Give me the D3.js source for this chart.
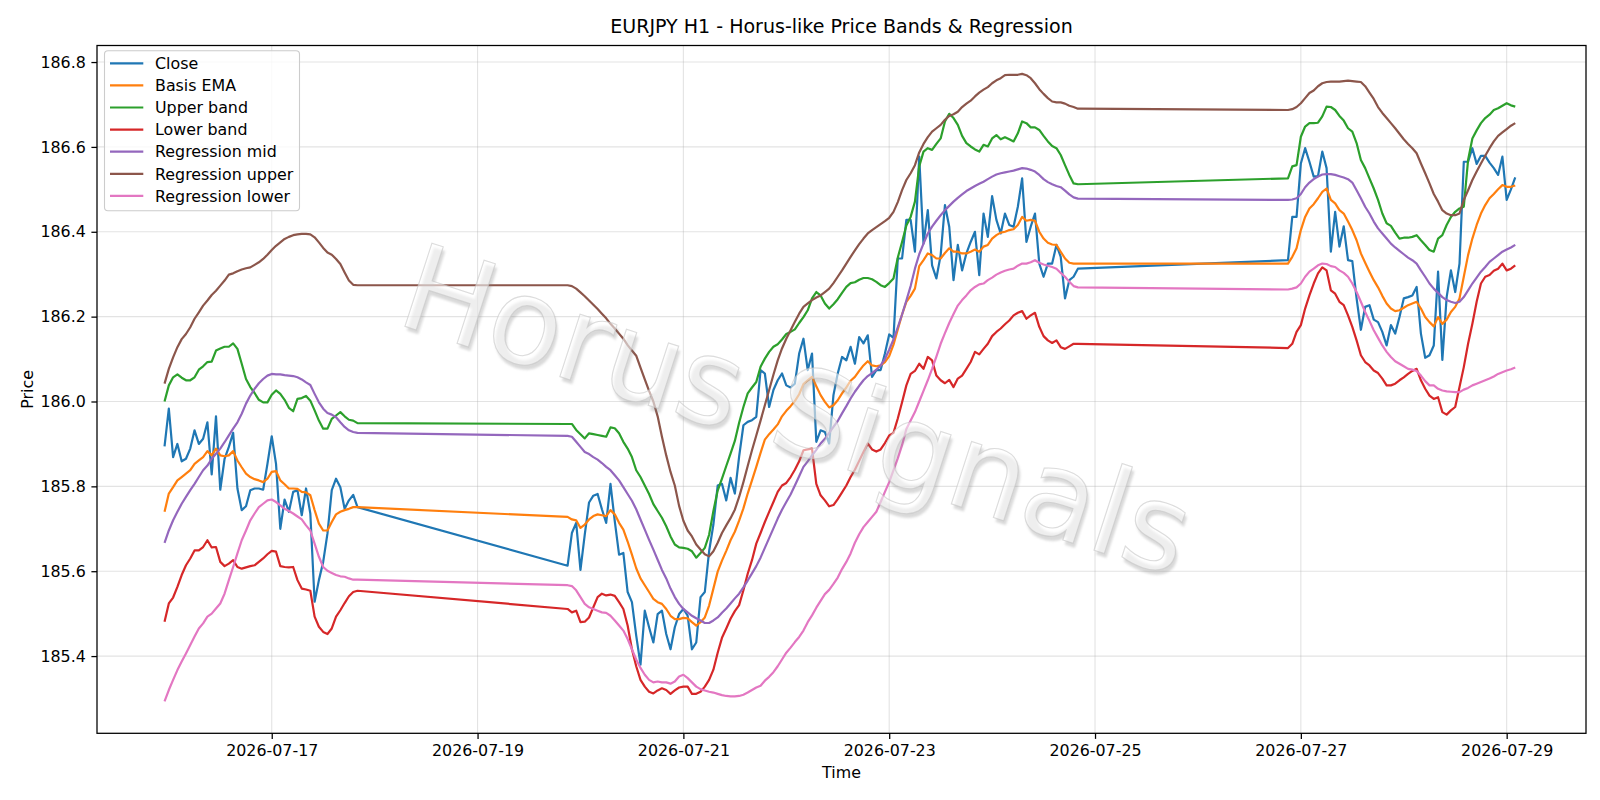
<!DOCTYPE html>
<html>
<head>
<meta charset="utf-8">
<script src="https://cdn.jsdelivr.net/npm/d3@7"></script>
<style>
  body { margin: 0; background: #ffffff; }
  text { font-family: "DejaVu Sans", sans-serif; }
</style>
</head>
<body>
<div id="chart"></div>
<script>
// trading sessions, one bar per hour (weekend gaps between them)
const sessions = [
    ["2026-07-15T23:00", "2026-07-17T20:00"],
    ["2026-07-19T21:00", "2026-07-24T20:00"],
    ["2026-07-26T21:00", "2026-07-29T02:00"]
];

const closeVals = [
    // session 1
    185.894, 185.983, 185.869, 185.900, 185.859, 185.865, 185.889, 185.932, 185.900, 185.912,
    185.951, 185.828, 185.965, 185.792, 185.865, 185.893, 185.926, 185.795, 185.744, 185.753,
    185.791, 185.795, 185.795, 185.792, 185.853, 185.918, 185.853, 185.700, 185.769, 185.740,
    185.787, 185.791, 185.732, 185.795, 185.736, 185.528, 185.579, 185.622, 185.689, 185.791,
    185.818, 185.798, 185.747, 185.767, 185.780, 185.751,
    // session 2
    185.613, 185.690, 185.714, 185.603, 185.686, 185.762, 185.778, 185.782, 185.746, 185.714,
    185.806, 185.718, 185.639, 185.643, 185.551, 185.527, 185.448, 185.380, 185.507, 185.468,
    185.432, 185.499, 185.507, 185.452, 185.416, 185.468, 185.499, 185.511, 185.495, 185.416,
    185.432, 185.539, 185.551, 185.647, 185.710, 185.802, 185.806, 185.767, 185.820, 185.783,
    185.870, 185.944, 185.952, 185.956, 185.964, 186.074, 186.066, 185.987, 186.027, 186.050,
    186.066, 186.038, 186.033, 186.042, 186.113, 186.148, 186.074, 186.113, 185.905, 185.932,
    185.928, 185.901, 186.015, 186.066, 186.105, 186.097, 186.129, 186.089, 186.152, 186.137,
    186.156, 186.058, 186.074, 186.074, 186.113, 186.158, 186.150, 186.337, 186.337, 186.428,
    186.428, 186.353, 186.577, 186.372, 186.451, 186.321, 186.290, 186.345, 186.463, 186.412,
    186.286, 186.369, 186.309, 186.349, 186.376, 186.400, 186.298, 186.443, 186.388, 186.484,
    186.428, 186.396, 186.443, 186.416, 186.412, 186.459, 186.526, 186.376, 186.412, 186.443,
    186.325, 186.294, 186.325, 186.325, 186.369, 186.341, 186.243, 186.286, 186.294, 186.313,
    // session 3
    186.333, 186.435, 186.435, 186.561, 186.597, 186.565, 186.530, 186.531, 186.589, 186.550,
    186.353, 186.447, 186.365, 186.413, 186.333, 186.331, 186.243, 186.169, 186.223, 186.227,
    186.193, 186.187, 186.164, 186.132, 186.180, 186.160, 186.199, 186.243, 186.246, 186.250,
    186.270, 186.160, 186.103, 186.109, 186.132, 186.306, 186.098, 186.246, 186.309, 186.258,
    186.325, 186.565, 186.565, 186.597, 186.560, 186.579, 186.579, 186.563, 186.550, 186.534,
    186.577, 186.475, 186.500, 186.528
];

const basisVals = [
    185.740, 185.783, 185.798, 185.814, 185.822, 185.830, 185.838, 185.853, 185.861, 185.869,
    185.883, 185.873, 185.889, 185.873, 185.871, 185.873, 185.883, 185.861, 185.845, 185.830,
    185.822, 185.817, 185.814, 185.810, 185.818, 185.834, 185.836, 185.814, 185.805, 185.795,
    185.795, 185.794, 185.787, 185.786, 185.779, 185.744, 185.712, 185.696, 185.696, 185.716,
    185.734, 185.740, 185.744, 185.747, 185.751, 185.751,

    185.728, 185.722, 185.720, 185.702, 185.710, 185.722, 185.730, 185.734, 185.732, 185.730,
    185.744, 185.734, 185.714, 185.698, 185.670, 185.639, 185.607, 185.583, 185.567, 185.551,
    185.535, 185.527, 185.523, 185.511, 185.495, 185.487, 185.487, 185.490, 185.489, 185.480,
    185.472, 185.480, 185.491, 185.519, 185.559, 185.599, 185.625, 185.648, 185.673, 185.693,
    185.719, 185.748, 185.783, 185.814, 185.846, 185.879, 185.910, 185.923, 185.934, 185.946,
    185.965, 185.978, 185.989, 186.001, 186.017, 186.041, 186.050, 186.058, 186.036, 186.015,
    185.999, 185.986, 185.991, 186.003, 186.019, 186.033, 186.049, 186.058, 186.072, 186.085,
    186.095, 186.085, 186.083, 186.085, 186.093, 186.107, 186.134, 186.170, 186.205, 186.235,
    186.249, 186.266, 186.319, 186.333, 186.349, 186.345, 186.337, 186.337, 186.350, 186.361,
    186.353, 186.353, 186.349, 186.349, 186.353, 186.358, 186.353, 186.365, 186.369, 186.384,
    186.392, 186.398, 186.400, 186.404, 186.406, 186.416, 186.435, 186.426, 186.428, 186.426,
    186.400, 186.384, 186.374, 186.370, 186.369, 186.353, 186.337, 186.327, 186.325, 186.325,

    186.325, 186.341, 186.361, 186.404, 186.435, 186.455, 186.465, 186.479, 186.494, 186.502,
    186.475, 186.467, 186.451, 186.443, 186.424, 186.404, 186.380, 186.349, 186.327, 186.306,
    186.286, 186.269, 186.249, 186.231, 186.219, 186.213, 186.215, 186.221, 186.227, 186.231,
    186.235, 186.219, 186.199, 186.187, 186.177, 186.199, 186.183, 186.193, 186.211, 186.223,
    186.243, 186.294, 186.345, 186.384, 186.416, 186.443, 186.463, 186.479, 186.489, 186.500,
    186.510, 186.506, 186.506, 186.509
];

const upperVals = [
    186.000, 186.038, 186.057, 186.064, 186.056, 186.050, 186.050, 186.057, 186.075, 186.083,
    186.093, 186.094, 186.120, 186.125, 186.129, 186.129, 186.137, 186.124, 186.089, 186.053,
    186.034, 186.020, 186.004, 185.998, 185.998, 186.016, 186.026, 186.018, 186.004, 185.985,
    185.977, 186.006, 186.008, 186.013, 186.002, 185.979, 185.955, 185.936, 185.936, 185.959,
    185.967, 185.975, 185.965, 185.957, 185.955, 185.949,

    185.947, 185.947, 185.933, 185.923, 185.913, 185.925, 185.923, 185.921, 185.919, 185.917,
    185.939, 185.937, 185.925, 185.905, 185.889, 185.869, 185.838, 185.822, 185.802, 185.782,
    185.758, 185.742, 185.726, 185.706, 185.682, 185.663, 185.656, 185.655, 185.653, 185.647,
    185.632, 185.643, 185.655, 185.686, 185.742, 185.790, 185.818, 185.848, 185.877, 185.907,
    185.950, 185.987, 186.019, 186.033, 186.046, 186.082, 186.101, 186.117, 186.129, 186.135,
    186.146, 186.159, 186.164, 186.170, 186.185, 186.199, 186.215, 186.243, 186.258, 186.250,
    186.231, 186.219, 186.229, 186.241, 186.256, 186.270, 186.279, 186.281, 186.287, 186.291,
    186.291, 186.288, 186.282, 186.274, 186.270, 186.279, 186.290, 186.339, 186.376, 186.415,
    186.435, 186.471, 186.554, 186.589, 186.597, 186.593, 186.607, 186.620, 186.660, 186.678,
    186.668, 186.652, 186.626, 186.609, 186.601, 186.594, 186.589, 186.605, 186.601, 186.620,
    186.628, 186.618, 186.623, 186.618, 186.613, 186.632, 186.660, 186.656, 186.646, 186.646,
    186.640, 186.626, 186.613, 186.602, 186.597, 186.581, 186.557, 186.534, 186.514, 186.512,

    186.526, 186.554, 186.557, 186.624, 186.648, 186.656, 186.656, 186.657, 186.672, 186.695,
    186.694, 186.687, 186.673, 186.662, 186.644, 186.636, 186.609, 186.569, 186.550, 186.526,
    186.502, 186.475, 186.443, 186.420, 186.414, 186.398, 186.384, 186.386, 186.386, 186.388,
    186.392, 186.380, 186.369, 186.357, 186.353, 186.384, 186.392, 186.416, 186.435, 186.447,
    186.455, 186.459, 186.569, 186.620, 186.639, 186.656, 186.668, 186.676, 186.687, 186.691,
    186.697, 186.703, 186.698, 186.695
];

const lowerVals = [
    185.481, 185.524, 185.538, 185.563, 185.591, 185.614, 185.630, 185.649, 185.649, 185.657,
    185.673, 185.656, 185.657, 185.622, 185.612, 185.618, 185.626, 185.610, 185.606, 185.609,
    185.612, 185.614, 185.622, 185.630, 185.640, 185.648, 185.646, 185.612, 185.610, 185.609,
    185.610, 185.579, 185.559, 185.557, 185.554, 185.493, 185.469, 185.457, 185.452, 185.465,
    185.493, 185.508, 185.525, 185.541, 185.551, 185.554,

    185.511, 185.503, 185.507, 185.480, 185.481, 185.491, 185.515, 185.539, 185.547, 185.543,
    185.545, 185.542, 185.527, 185.511, 185.472, 185.416, 185.376, 185.344, 185.328, 185.316,
    185.312, 185.319, 185.324, 185.320, 185.311, 185.319, 185.326, 185.328, 185.328, 185.311,
    185.311, 185.316, 185.328, 185.344, 185.368, 185.408, 185.443, 185.465, 185.488, 185.506,
    185.520, 185.555, 185.594, 185.626, 185.665, 185.690, 185.716, 185.740, 185.763, 185.787,
    185.802, 185.808, 185.822, 185.839, 185.859, 185.885, 185.887, 185.889, 185.806, 185.779,
    185.767, 185.753, 185.756, 185.770, 185.786, 185.802, 185.822, 185.839, 185.860, 185.881,
    185.901, 185.887, 185.882, 185.887, 185.902, 185.920, 185.926, 185.960, 185.998, 186.038,
    186.065, 186.072, 186.089, 186.077, 186.105, 186.097, 186.061, 186.050, 186.043, 186.051,
    186.034, 186.054, 186.061, 186.077, 186.093, 186.117, 186.111, 186.124, 186.136, 186.154,
    186.164, 186.172, 186.182, 186.191, 186.203, 186.209, 186.213, 186.195, 186.203, 186.209,
    186.176, 186.154, 186.144, 186.138, 186.144, 186.128, 186.124, 186.130, 186.136, 186.136,

    186.126, 186.136, 186.164, 186.180, 186.219, 186.250, 186.278, 186.302, 186.316, 186.309,
    186.262, 186.254, 186.235, 186.227, 186.203, 186.176, 186.144, 186.109, 186.093, 186.085,
    186.073, 186.067, 186.054, 186.038, 186.038, 186.042, 186.050, 186.057, 186.065, 186.072,
    186.077, 186.050, 186.030, 186.014, 186.006, 186.010, 185.975, 185.969, 185.979, 185.987,
    186.034, 186.081, 186.136, 186.183, 186.235, 186.278, 186.294, 186.298, 186.308, 186.313,
    186.325, 186.309, 186.313, 186.321
];

const regMidVals = [
    185.667, 185.696, 185.720, 185.740, 185.759, 185.775, 185.791, 185.806, 185.822, 185.838,
    185.849, 185.865, 185.877, 185.889, 185.904, 185.920, 185.936, 185.951, 185.971, 185.995,
    186.014, 186.030, 186.043, 186.053, 186.061, 186.065, 186.064, 186.064, 186.062, 186.061,
    186.060, 186.057, 186.052, 186.045, 186.039, 186.018, 185.998, 185.983, 185.973, 185.969,
    185.963, 185.951, 185.940, 185.932, 185.928, 185.926,

    185.919, 185.917, 185.905, 185.893, 185.881, 185.876, 185.869, 185.863, 185.855, 185.846,
    185.838, 185.826, 185.814, 185.798, 185.782, 185.766, 185.746, 185.722, 185.698, 185.674,
    185.651, 185.627, 185.603, 185.583, 185.559, 185.539, 185.523, 185.511, 185.503, 185.495,
    185.489, 185.484, 185.478, 185.478, 185.484, 185.491, 185.502, 185.512, 185.524, 185.536,
    185.547, 185.562, 185.578, 185.595, 185.612, 185.632, 185.655, 185.678, 185.701, 185.724,
    185.745, 185.763, 185.781, 185.802, 185.824, 185.846, 185.859, 185.873, 185.886, 185.901,
    185.912, 185.926, 185.940, 185.954, 185.972, 185.989, 186.007, 186.023, 186.037, 186.050,
    186.060, 186.067, 186.075, 186.085, 186.100, 186.122, 186.146, 186.175, 186.205, 186.238,
    186.272, 186.313, 186.347, 186.372, 186.396, 186.412, 186.426, 186.439, 186.451, 186.461,
    186.471, 186.480, 186.488, 186.496, 186.502, 186.508, 186.513, 186.518, 186.524, 186.530,
    186.535, 186.538, 186.540, 186.542, 186.544, 186.547, 186.550, 186.549, 186.546, 186.542,
    186.534, 186.524, 186.517, 186.512, 186.508, 186.505, 186.497, 186.488, 186.481, 186.478,

    186.475, 186.476, 186.479, 186.489, 186.505, 186.516, 186.524, 186.530, 186.535, 186.536,
    186.536, 186.534, 186.531, 186.528, 186.524, 186.516, 186.498, 186.479, 186.459, 186.443,
    186.424, 186.408, 186.396, 186.384, 186.372, 186.363, 186.355, 186.347, 186.339, 186.333,
    186.325, 186.309, 186.294, 186.278, 186.266, 186.256, 186.246, 186.239, 186.235, 186.232,
    186.235, 186.246, 186.262, 186.278, 186.292, 186.306, 186.317, 186.329, 186.337, 186.345,
    186.353, 186.358, 186.363, 186.369
];

const regUpperVals = [
    186.042, 186.077, 186.104, 186.128, 186.147, 186.159, 186.175, 186.195, 186.210, 186.226,
    186.238, 186.251, 186.261, 186.273, 186.285, 186.299, 186.302, 186.307, 186.311, 186.314,
    186.316, 186.322, 186.328, 186.336, 186.346, 186.357, 186.367, 186.375, 186.383, 186.388,
    186.392, 186.394, 186.395, 186.395, 186.394, 186.387, 186.375, 186.362, 186.351, 186.346,
    186.336, 186.324, 186.304, 186.285, 186.275, 186.274,

    186.274, 186.272, 186.266, 186.257, 186.248, 186.238, 186.228, 186.218, 186.207, 186.196,
    186.183, 186.172, 186.160, 186.148, 186.133, 186.120, 186.108, 186.080, 186.052, 186.025,
    186.000, 185.965, 185.917, 185.873, 185.834, 185.802, 185.754, 185.719, 185.696, 185.682,
    185.663, 185.651, 185.640, 185.635, 185.647, 185.667, 185.690, 185.708, 185.725, 185.745,
    185.775, 185.810, 185.848, 185.885, 185.920, 185.955, 185.991, 186.027, 186.063, 186.097,
    186.125, 186.148, 186.168, 186.188, 186.207, 186.223, 186.231, 186.239, 186.245, 186.250,
    186.258, 186.266, 186.279, 186.294, 186.309, 186.325, 186.341, 186.356, 186.371, 186.384,
    186.396, 186.404, 186.411, 186.418, 186.425, 186.433, 186.447, 186.470, 186.498, 186.522,
    186.538, 186.557, 186.587, 186.607, 186.623, 186.636, 186.644, 186.652, 186.664, 186.673,
    186.677, 186.683, 186.694, 186.702, 186.709, 186.719, 186.728, 186.735, 186.741, 186.750,
    186.757, 186.762, 186.769, 186.770, 186.770, 186.770, 186.772, 186.769, 186.762, 186.750,
    186.736, 186.725, 186.715, 186.707, 186.705, 186.705, 186.702, 186.697, 186.694, 186.690,

    186.687, 186.689, 186.694, 186.703, 186.715, 186.727, 186.733, 186.743, 186.750, 186.753,
    186.754, 186.754, 186.754, 186.755, 186.756, 186.755, 186.754, 186.753, 186.743, 186.728,
    186.713, 186.694, 186.680, 186.668, 186.656, 186.644, 186.631, 186.618, 186.607, 186.597,
    186.585, 186.561, 186.538, 186.514, 186.489, 186.471, 186.451, 186.443, 186.439, 186.439,
    186.443, 186.475, 186.498, 186.522, 186.542, 186.561, 186.579, 186.597, 186.613, 186.626,
    186.634, 186.642, 186.650, 186.656
];

const regLowerVals = [
    185.293, 185.320, 185.344, 185.367, 185.387, 185.406, 185.426, 185.446, 185.465, 185.477,
    185.493, 185.500, 185.512, 185.524, 185.547, 185.579, 185.610, 185.642, 185.673, 185.696,
    185.720, 185.736, 185.751, 185.759, 185.767, 185.769, 185.763, 185.755, 185.747, 185.742,
    185.736, 185.729, 185.722, 185.708, 185.696, 185.665, 185.634, 185.610, 185.601, 185.596,
    185.591, 185.588, 185.587, 185.583, 185.580, 185.580,

    185.567, 185.565, 185.555, 185.539, 185.523, 185.515, 185.511, 185.507, 185.503, 185.502,
    185.495, 185.484, 185.472, 185.460, 185.440, 185.416, 185.392, 185.372, 185.356, 185.344,
    185.338, 185.340, 185.338, 185.338, 185.335, 185.340, 185.352, 185.356, 185.348, 185.338,
    185.328, 185.322, 185.319, 185.316, 185.314, 185.311, 185.308, 185.306, 185.305, 185.305,
    185.306, 185.309, 185.314, 185.320, 185.326, 185.330, 185.342, 185.351, 185.362, 185.376,
    185.392, 185.408, 185.420, 185.433, 185.445, 185.460, 185.480, 185.496, 185.514, 185.530,
    185.546, 185.556, 185.570, 185.585, 185.605, 185.622, 185.642, 185.667, 185.687, 185.704,
    185.716, 185.728, 185.740, 185.763, 185.787, 185.810, 185.838, 185.866, 185.897, 185.935,
    185.955, 185.975, 186.000, 186.025, 186.050, 186.077, 186.106, 186.136, 186.161, 186.185,
    186.206, 186.226, 186.239, 186.250, 186.262, 186.270, 186.276, 186.278, 186.286, 186.292,
    186.299, 186.304, 186.308, 186.311, 186.313, 186.320, 186.325, 186.325, 186.328, 186.333,
    186.327, 186.323, 186.320, 186.317, 186.313, 186.303, 186.294, 186.282, 186.272, 186.269,

    186.264, 186.266, 186.269, 186.278, 186.294, 186.306, 186.313, 186.321, 186.325, 186.324,
    186.319, 186.317, 186.309, 186.303, 186.294, 186.278, 186.258, 186.235, 186.211, 186.190,
    186.168, 186.150, 186.132, 186.117, 186.105, 186.095, 186.089, 186.083, 186.077, 186.075,
    186.072, 186.061, 186.048, 186.038, 186.038, 186.030, 186.026, 186.024, 186.023, 186.022,
    186.022, 186.028, 186.032, 186.038, 186.042, 186.046, 186.050, 186.054, 186.059, 186.065,
    186.069, 186.073, 186.076, 186.080
];

const seriesNames = ["Close", "Basis EMA", "Upper band", "Lower band",
                     "Regression mid", "Regression upper", "Regression lower"];
const seriesValues = [closeVals, basisVals, upperVals, lowerVals,
                      regMidVals, regUpperVals, regLowerVals];
const seriesColors = ["#1f77b4", "#ff7f0e", "#2ca02c", "#d62728",
                      "#9467bd", "#8c564b", "#e377c2"];

const yTicks = [185.4, 185.6, 185.8, 186.0, 186.2, 186.4, 186.6, 186.8];
const xTicks = ["2026-07-17", "2026-07-19", "2026-07-21", "2026-07-23",
                "2026-07-25", "2026-07-27", "2026-07-29"];

const titleText = "EURJPY H1 - Horus-like Price Bands & Regression";
const watermarkText = "Horus Signals";

// ---------------------------------------------------------------
const width = 1600, height = 800;
const plotL = 97, plotR = 1586, plotT = 45.5, plotB = 733.3;
const fs = 15.87;

const parseHour = d3.timeParse("%Y-%m-%dT%H:%M");
const parseDay = d3.timeParse("%Y-%m-%d");

// hourly timestamps of every bar
let times = [];
sessions.forEach(function(s){
    const a = parseHour(s[0]), b = parseHour(s[1]);
    times = times.concat(d3.timeHour.range(a, d3.timeHour.offset(b, 1)));
});
seriesValues.forEach(function(v, i){
    if (v.length != times.length) console.warn(seriesNames[i], v.length, times.length);
});

const x = d3.scaleTime()
    .domain([parseHour("2026-07-15T07:15"), parseHour("2026-07-29T18:30")])
    .range([plotL, plotR]);
const y = d3.scaleLinear()
    .domain([185.218, 186.839])
    .range([plotB, plotT]);

const svg = d3.select("#chart").append("svg")
    .attr("width", width).attr("height", height)
    .attr("viewBox", `0 0 ${width} ${height}`)
    .style("display", "block")
    .style("background", "#ffffff");

const defs = svg.append("defs");
defs.append("clipPath").attr("id", "plotclip")
    .append("rect")
    .attr("x", plotL).attr("y", plotT)
    .attr("width", plotR - plotL).attr("height", plotB - plotT);
defs.append("filter").attr("id", "soft")
    .append("feGaussianBlur").attr("stdDeviation", 0.8);

// grid
const grid = svg.append("g");
grid.selectAll(".gx").data(xTicks).enter().append("line")
    .attr("x1", d => x(parseDay(d))).attr("x2", d => x(parseDay(d)))
    .attr("y1", plotT).attr("y2", plotB)
    .attr("stroke", "#b0b0b0").attr("stroke-opacity", 0.35).attr("stroke-width", 1.1);
grid.selectAll(".gy").data(yTicks).enter().append("line")
    .attr("x1", plotL).attr("x2", plotR)
    .attr("y1", d => y(d)).attr("y2", d => y(d))
    .attr("stroke", "#b0b0b0").attr("stroke-opacity", 0.35).attr("stroke-width", 1.1);

// series lines
const lines = svg.append("g").attr("clip-path", "url(#plotclip)");
seriesValues.forEach(function(vals, i){
    const line = d3.line()
        .x((d, j) => x(times[j]))
        .y(d => y(d));
    lines.append("path")
        .datum(vals)
        .attr("d", line)
        .attr("fill", "none")
        .attr("stroke", seriesColors[i])
        .attr("stroke-width", 2.2)
        .attr("stroke-linejoin", "round")
        .attr("stroke-linecap", "butt");
});

// watermark
const wm = svg.append("g")
    .attr("transform", "translate(797,410) rotate(18)");
wm.append("text")
    .attr("x", 3.2).attr("y", 3.2)
    .attr("text-anchor", "middle")
    .attr("dominant-baseline", "central")
    .style("font-size", "120px")
    .attr("fill", "#808080")
    .attr("fill-opacity", 0.3)
    .attr("filter", "url(#soft)")
    .text(watermarkText);
wm.append("text")
    .attr("text-anchor", "middle")
    .attr("dominant-baseline", "central")
    .style("font-size", "120px")
    .attr("fill", "#ffffff")
    .attr("fill-opacity", 0.55)
    .attr("stroke", "#c4c4c4")
    .attr("stroke-opacity", 0.6)
    .attr("stroke-width", 1.1)
    .text(watermarkText);

// axes
const xAxis = svg.append("g")
    .attr("transform", `translate(0,${plotB})`)
    .call(d3.axisBottom(x)
        .tickValues(xTicks.map(parseDay))
        .tickFormat(d3.timeFormat("%Y-%m-%d"))
        .tickSize(5.6).tickPadding(5.6).tickSizeOuter(0));
const yAxis = svg.append("g")
    .attr("transform", `translate(${plotL},0)`)
    .call(d3.axisLeft(y)
        .tickValues(yTicks)
        .tickFormat(d3.format(".1f"))
        .tickSize(5.6).tickPadding(5.6).tickSizeOuter(0));
[xAxis, yAxis].forEach(function(g){
    g.select(".domain").remove();
    g.selectAll(".tick line").attr("stroke", "#000").attr("stroke-width", 1.27);
    g.selectAll(".tick text")
        .style("font-family", '"DejaVu Sans", sans-serif')
        .style("font-size", fs + "px")
        .attr("fill", "#000");
});

// frame
svg.append("rect")
    .attr("x", plotL).attr("y", plotT)
    .attr("width", plotR - plotL).attr("height", plotB - plotT)
    .attr("fill", "none").attr("stroke", "#000").attr("stroke-width", 1.27);

// labels
svg.append("text")
    .attr("x", (plotL + plotR) / 2).attr("y", 32.5)
    .attr("text-anchor", "middle")
    .style("font-size", "19.05px")
    .text(titleText);
svg.append("text")
    .attr("x", (plotL + plotR) / 2).attr("y", 778)
    .attr("text-anchor", "middle")
    .style("font-size", fs + "px")
    .text("Time");
svg.append("text")
    .attr("transform", `translate(32.5,${(plotT + plotB) / 2}) rotate(-90)`)
    .attr("text-anchor", "middle")
    .style("font-size", fs + "px")
    .text("Price");

// legend
const legend = svg.append("g");
legend.append("rect")
    .attr("x", 104.5).attr("y", 50.7)
    .attr("width", 195).attr("height", 160)
    .attr("rx", 3.5)
    .attr("fill", "#ffffff").attr("fill-opacity", 0.8)
    .attr("stroke", "#cccccc").attr("stroke-width", 1.1);
seriesNames.forEach(function(name, i){
    const cy = 63.3 + i * 22.1;
    legend.append("line")
        .attr("x1", 110).attr("x2", 143.3)
        .attr("y1", cy).attr("y2", cy)
        .attr("stroke", seriesColors[i]).attr("stroke-width", 2.2);
    legend.append("text")
        .attr("x", 155).attr("y", cy + 5.7)
        .style("font-size", fs + "px")
        .text(name);
});
</script>
</body>
</html>
